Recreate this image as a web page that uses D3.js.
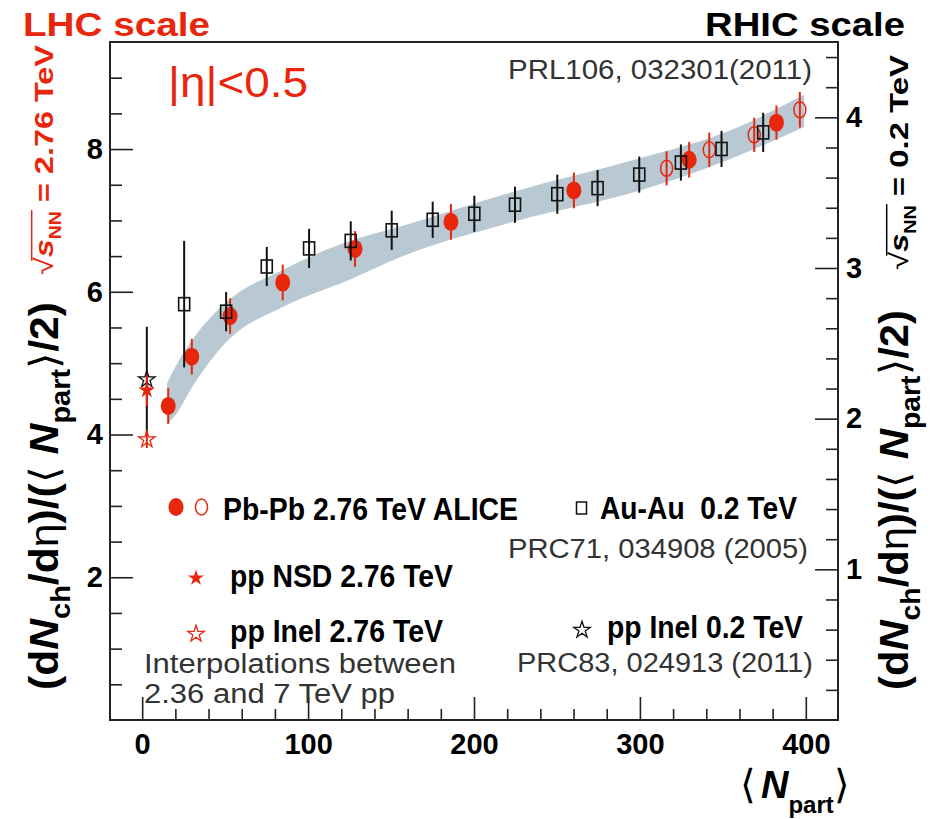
<!DOCTYPE html>
<html><head><meta charset="utf-8">
<script src="https://cdn.jsdelivr.net/npm/d3@7"></script>
<style>
html,body{margin:0;padding:0;background:#fff;}
svg{display:block;}
text{font-family:"Liberation Sans",Arial,sans-serif;white-space:pre;}
</style></head><body>
<svg id="chart" width="933" height="819"></svg>
<script>
// ALICE Pb-Pb 2.76 TeV, standard centrality classes (filled circles), left scale
const pbNpart = [15.7, 29.9, 53.0, 84.7, 128.3, 186.1, 260.2, 329.7, 382.3];
const pbValue = [4.40, 5.09, 5.66, 6.13, 6.60, 6.98, 7.42, 7.85, 8.37];
const pbError = [0.25, 0.25, 0.25, 0.25, 0.25, 0.25, 0.25, 0.25, 0.24];
// ALICE Pb-Pb 2.76 TeV, finer central classes (open circles), left scale
const pbFineNpart = [316.1, 341.8, 368.9, 396.4];
const pbFineValue = [7.73, 7.99, 8.20, 8.55];
const pbFineError = [0.24, 0.24, 0.24, 0.25];
// Au-Au 0.2 TeV (open squares), right scale
const auNpart = [25.3, 50.6, 75.1, 100.6, 125.7, 150.4, 175.1, 200.2, 224.7, 250.2, 274.5, 299.6, 324.7, 349.2, 374.3];
const auValue = [2.76, 2.71, 3.01, 3.13, 3.18, 3.25, 3.32, 3.36, 3.42, 3.49, 3.53, 3.62, 3.70, 3.79, 3.90];
const auError = [0.42, 0.13, 0.13, 0.13, 0.13, 0.13, 0.12, 0.12, 0.12, 0.13, 0.12, 0.12, 0.12, 0.12, 0.13];
// pp points at Npart = 2
const ppNpart = 2.8;
const ppNsdLHC = 4.62, ppNsdLHCErr = 0.22;     // left scale
const ppInelLHC = 3.93, ppInelLHCErr = 0.12;   // left scale
const ppInelRHIC = 2.26, ppInelRHICErr = 0.35; // right scale
// model band (left scale)
const bandNpart = [15, 20, 30, 50, 85, 125, 155, 225, 300, 350, 399];
const bandLow   = [4.15, 4.27, 4.66, 5.28, 5.79, 6.17, 6.48, 6.99, 7.42, 7.82, 8.31];
const bandHigh  = [4.72, 4.95, 5.32, 5.84, 6.31, 6.71, 6.91, 7.41, 7.87, 8.22, 8.76];
// tick values
const xTicks = [0, 100, 200, 300, 400];
const yLeftTicks = [2, 4, 6, 8];
const yRightTicks = [1, 2, 3, 4];

const RED = "#e8260c", BAND = "#b9c9d3", GRAY = "#333333";
const svg = d3.select("#chart");
const L = 110, R = 838, T = 42, B = 720;

const x = d3.scaleLinear().domain([-20, 420]).range([109, 839]);
const yL = d3.scaleLinear().domain([0, 9.5]).range([B, T]);
const yR = d3.scaleLinear().domain([0, 4.5]).range([B, T]);

// band
svg.append("path")
  .datum(bandNpart.map((n, i) => ({n, lo: bandLow[i], hi: bandHigh[i]})))
  .attr("fill", BAND)
  .attr("d", d3.area().x(d => x(d.n)).y0(d => yL(d.lo)).y1(d => yL(d.hi)).curve(d3.curveMonotoneX));

// axes with inward ticks
function styleAxis(g) {
  g.select(".domain").remove();
  g.selectAll(".tick line").attr("stroke", "#222").attr("stroke-width", 1.6);
  g.selectAll(".tick text").attr("font-family", "Liberation Sans, Arial, sans-serif")
    .attr("font-weight", "bold").attr("font-size", 29).attr("fill", "#000");
}
const range = (a, b, s) => d3.range(Math.round((b - a) / s) + 1).map(i => +(a + i * s).toFixed(3));
const intFmt = d3.format("d");

svg.append("g").attr("transform", `translate(${L},0)`)
  .call(d3.axisLeft(yL).tickValues(range(0.5, 9, 0.5).filter(v => v % 2 !== 0)).tickSizeInner(-12).tickSizeOuter(0).tickFormat(""))
  .call(styleAxis);
svg.append("g").attr("transform", `translate(${L},0)`)
  .call(d3.axisLeft(yL).tickValues(yLeftTicks).tickFormat(intFmt).tickSizeInner(-23).tickSizeOuter(0).tickPadding(7))
  .call(styleAxis);

svg.append("g").attr("transform", `translate(${R},0)`)
  .call(d3.axisRight(yR).tickValues(range(0.2, 4.4, 0.2).filter(v => Math.abs(v - Math.round(v)) > 1e-6)).tickSizeInner(-12).tickSizeOuter(0).tickFormat(""))
  .call(styleAxis);
svg.append("g").attr("transform", `translate(${R},0)`)
  .call(d3.axisRight(yR).tickValues(yRightTicks).tickFormat(intFmt).tickSizeInner(-23).tickSizeOuter(0).tickPadding(8))
  .call(styleAxis);

svg.append("g").attr("transform", `translate(0,${B})`)
  .call(d3.axisBottom(x).tickValues(range(0, 400, 20).filter(v => v % 100 !== 0)).tickSizeInner(-11).tickSizeOuter(0).tickFormat(""))
  .call(styleAxis);
svg.append("g").attr("transform", `translate(0,${B})`)
  .call(d3.axisBottom(x).tickValues(xTicks).tickFormat(intFmt).tickSizeInner(-23).tickSizeOuter(0).tickPadding(13))
  .call(styleAxis);

// frame
svg.append("rect").attr("x", L).attr("y", T).attr("width", R - L).attr("height", B - T)
  .attr("fill", "none").attr("stroke", "#222").attr("stroke-width", 2);

// error bars
function errBars(xs, ys, es, scale, color) {
  svg.append("g").selectAll("line").data(xs).join("line")
    .attr("x1", d => x(d)).attr("x2", d => x(d))
    .attr("y1", (d, i) => scale(ys[i] - es[i])).attr("y2", (d, i) => scale(ys[i] + es[i]))
    .attr("stroke", color).attr("stroke-width", 2);
}

const star = d3.symbol(d3.symbolStar, 85);

// pp points
errBars([ppNpart], [ppInelRHIC], [ppInelRHICErr], yR, "#111");
errBars([ppNpart], [ppNsdLHC], [ppNsdLHCErr], yL, RED);
errBars([ppNpart], [ppInelLHC], [ppInelLHCErr], yL, RED);
svg.append("path").attr("d", star()).attr("transform", `translate(${x(ppNpart)},${yR(ppInelRHIC)})`)
  .attr("fill", "none").attr("stroke", "#111").attr("stroke-width", 1.3);
svg.append("path").attr("d", star()).attr("transform", `translate(${x(ppNpart)},${yL(ppNsdLHC)})`)
  .attr("fill", RED);
svg.append("path").attr("d", star()).attr("transform", `translate(${x(ppNpart)},${yL(ppInelLHC)})`)
  .attr("fill", "none").attr("stroke", RED).attr("stroke-width", 1.3);

// Pb-Pb
errBars(pbNpart, pbValue, pbError, yL, RED);
svg.append("g").selectAll("ellipse").data(pbNpart).join("ellipse")
  .attr("cx", d => x(d)).attr("cy", (d, i) => yL(pbValue[i])).attr("rx", 7.5).attr("ry", 9)
  .attr("fill", RED);
errBars(pbFineNpart, pbFineValue, pbFineError, yL, RED);
svg.append("g").selectAll("ellipse").data(pbFineNpart).join("ellipse")
  .attr("cx", d => x(d)).attr("cy", (d, i) => yL(pbFineValue[i])).attr("rx", 6).attr("ry", 8)
  .attr("fill", "none").attr("stroke", RED).attr("stroke-width", 1.5);

// Au-Au
errBars(auNpart, auValue, auError, yR, "#111");
svg.append("g").selectAll("rect").data(auNpart).join("rect")
  .attr("x", d => x(d) - 5.5).attr("y", (d, i) => yR(auValue[i]) - 6.5).attr("width", 11).attr("height", 13)
  .attr("fill", "none").attr("stroke", "#111").attr("stroke-width", 1.6);

// text helper
function txt(s, xx, yy, opt) {
  const t = svg.append("text").attr("x", xx).attr("y", yy).text(s)
    .attr("font-size", opt.fs).attr("fill", opt.fill || "#000")
    .attr("font-weight", opt.bold ? "bold" : "normal");
  if (opt.len) t.attr("textLength", opt.len).attr("lengthAdjust", "spacingAndGlyphs");
  if (opt.anchor) t.attr("text-anchor", opt.anchor);
  return t;
}

txt("LHC scale", 23, 36, {fs: 33, bold: true, fill: RED, len: 187});
txt("RHIC scale", 705, 36, {fs: 33, bold: true, len: 200});
txt("|η|<0.5", 168, 97, {fs: 42, fill: RED, len: 140});
txt("PRL106, 032301(2011)", 508, 79, {fs: 27, fill: GRAY, len: 304});

// legend
svg.append("ellipse").attr("cx", 176).attr("cy", 507).attr("rx", 7.5).attr("ry", 9).attr("fill", RED);
svg.append("ellipse").attr("cx", 201.5).attr("cy", 507).attr("rx", 6).attr("ry", 8)
  .attr("fill", "none").attr("stroke", RED).attr("stroke-width", 1.5);
txt("Pb-Pb 2.76 TeV ALICE", 223, 520, {fs: 31, bold: true, len: 295});
svg.append("path").attr("d", d3.symbol(d3.symbolStar, 80)()).attr("transform", "translate(196,578)").attr("fill", RED);
txt("pp NSD 2.76 TeV", 230, 587, {fs: 31, bold: true, len: 223});
svg.append("path").attr("d", star()).attr("transform", "translate(196,634)")
  .attr("fill", "none").attr("stroke", RED).attr("stroke-width", 1.3);
txt("pp Inel 2.76 TeV", 230, 642, {fs: 31, bold: true, len: 213});
txt("Interpolations between", 144, 673, {fs: 27, fill: GRAY, len: 312});
txt("2.36 and 7 TeV pp", 144, 703, {fs: 27, fill: GRAY, len: 251});

svg.append("rect").attr("x", 576.5).attr("y", 502).attr("width", 10).attr("height", 12)
  .attr("fill", "none").attr("stroke", "#111").attr("stroke-width", 1.5);
txt("Au-Au  0.2 TeV", 600, 519, {fs: 31, bold: true, len: 197});
txt("PRC71, 034908 (2005)", 508, 558, {fs: 27, fill: GRAY, len: 300});
svg.append("path").attr("d", star()).attr("transform", "translate(582,630)")
  .attr("fill", "none").attr("stroke", "#111").attr("stroke-width", 1.3);
txt("pp Inel 0.2 TeV", 607, 638, {fs: 31, bold: true, len: 196});
txt("PRC83, 024913 (2011)", 517, 672, {fs: 27, fill: GRAY, len: 296});

// axis titles
function yTitle(px, py, fs, len) {
  const g = svg.append("g").attr("transform", `translate(${px},${py}) rotate(-90)`);
  const t = g.append("text").attr("font-size", fs).attr("font-weight", "bold").attr("fill", "#000");
  const sub = fs * 0.3;
  t.append("tspan").text("(d");
  t.append("tspan").attr("font-style", "italic").text("N");
  t.append("tspan").attr("font-size", fs * 0.68).attr("dy", sub).text("ch");
  t.append("tspan").attr("dy", -sub).text("/d");
  t.append("tspan").attr("font-weight", "normal").text("η");
  t.append("tspan").text(")/(");
  t.append("tspan").attr("font-weight", "normal").text("⟨ ");
  t.append("tspan").attr("font-style", "italic").text("N");
  t.append("tspan").attr("font-size", fs * 0.68).attr("dy", sub).text("part");
  t.append("tspan").attr("dy", -sub).attr("font-weight", "normal").text("⟩");
  t.append("tspan").text("/2)");
  t.attr("textLength", len).attr("lengthAdjust", "spacingAndGlyphs");
}
yTitle(58, 690, 40, 388);
yTitle(908, 690, 40, 380);

function sqrtLabel(px, py, fs, len, energy, color) {
  const g = svg.append("g").attr("transform", `translate(${px},${py}) rotate(-90)`);
  const t = g.append("text").attr("font-size", fs).attr("font-weight", "bold").attr("fill", color);
  const sub = fs * 0.3;
  t.append("tspan").attr("font-weight", "normal").text("√");
  t.append("tspan").attr("font-style", "italic").text("s");
  t.append("tspan").attr("font-size", fs * 0.6).attr("dy", sub).text("NN");
  t.append("tspan").attr("dy", -sub).text(" = " + energy + " TeV");
  t.attr("textLength", len).attr("lengthAdjust", "spacingAndGlyphs");
  const e0 = t.node().getExtentOfChar(0), e3 = t.node().getExtentOfChar(3);
  g.append("line").attr("x1", e0.x + e0.width * 0.8).attr("x2", e3.x + e3.width + 1)
    .attr("y1", -fs * 0.82).attr("y2", -fs * 0.82).attr("stroke", color).attr("stroke-width", 1.5);
}
sqrtLabel(53, 275, 26, 230, "2.76", RED);
sqrtLabel(908, 270, 26, 215, "0.2", "#000");

// x title
const xt = svg.append("text").attr("x", 740).attr("y", 798).attr("font-size", 40).attr("fill", "#000");
xt.append("tspan").text("⟨");
xt.append("tspan").attr("font-weight", "bold").attr("font-style", "italic").attr("dx", 5).attr("font-size", 38).text("N");
xt.append("tspan").attr("font-weight", "bold").attr("font-size", 24).attr("dy", 15).text("part");
xt.append("tspan").attr("dy", -15).text("⟩");
</script>
</body></html>
